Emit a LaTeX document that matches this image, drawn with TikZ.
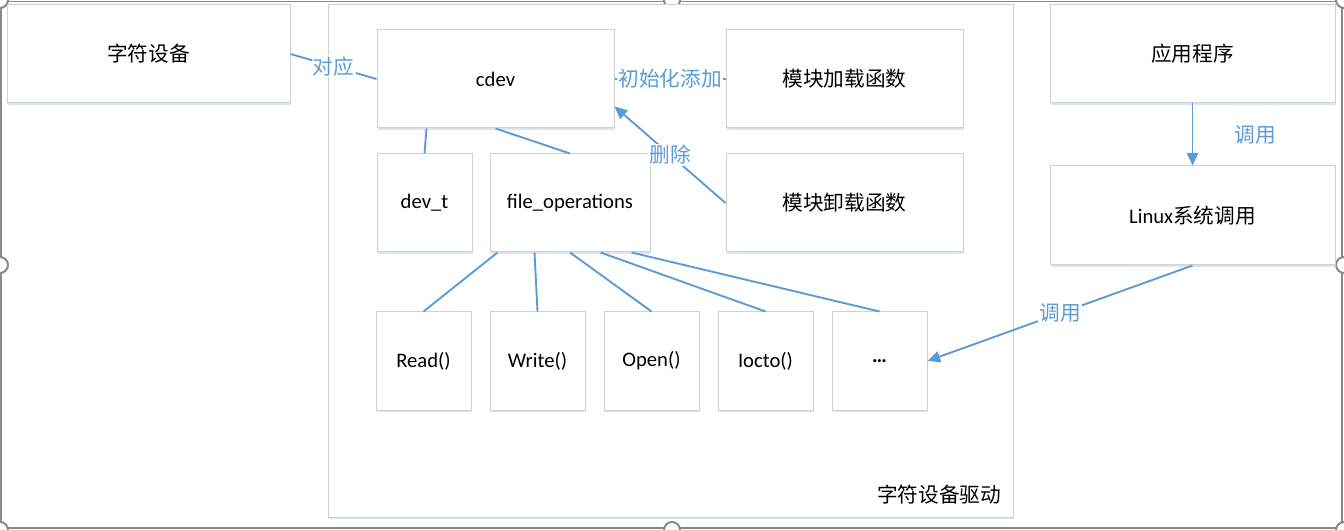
\documentclass[tikz,border=0pt]{standalone}
\usepackage{fontspec}
\setmainfont{Carlito}
\newfontfamily\cjk{Noto Sans CJK SC}
\usetikzlibrary{shadows,arrows.meta,calc}
\definecolor{lineblue}{HTML}{5B9BD5}
\definecolor{boxgray}{HTML}{D0D0D0}
\definecolor{shadowblue}{HTML}{C9DAEE}
\definecolor{selgray}{HTML}{8A8A8A}
\tikzset{
  every node/.style={font=\fontsize{15.5}{18}\selectfont},
  sz/.style 2 args={minimum width={#1*0.75pt}, minimum height={#2*0.75pt}},
  box/.style={draw=boxgray, fill=white, line width=0.75pt, inner sep=0pt,
    drop shadow={shadow xshift=0.8pt, shadow yshift=-1.2pt, fill=shadowblue, opacity=0.7}},
  conn/.style={draw=lineblue, line width=1.4pt},
  arr/.style={conn, -{Triangle[length=9.5pt,width=8.5pt]}},
  lbl/.style={fill=white, text=lineblue, inner sep=1pt, font=\fontsize{15.5}{18}\selectfont\cjk},
  handle/.style={circle, draw=selgray, fill=white, line width=1.5pt, minimum size=12pt, inner sep=0pt}
}
\begin{document}
\begin{tikzpicture}[x=0.75pt, y=-0.75pt]
\useasboundingbox (0,0) rectangle (1344,530);
% selection frame
\draw[selgray, line width=1.3pt] (1,1.5) rectangle (1342,528);
\foreach \hx/\hy/\hn in {0/0/h1, 672/0/h2, 1344/0/h3, 0/265/h4, 1344/265/h5, 0/530/h6, 672/530/h7, 1344/530/h8}
  \node[handle] (\hn) at (\hx,\hy) {};
% container
\node[box, sz={685}{512}] (drv) at (670.5,261) {};
\node[anchor=east] (drvlbl) at (1006,495) {\cjk 字符设备驱动};
% boxes
\node[box, sz={283}{98}] (zf) at (148.5,54) {\cjk 字符设备};
\node[box, sz={237}{98}] (cdev) at (495.5,79) {cdev};
\node[box, sz={237}{98}] (load) at (844.5,79) {\cjk 模块加载函数};
\node[box, sz={237}{98}] (unload) at (844.5,203) {\cjk 模块卸载函数};
\node[box, sz={95}{98}] (devt) at (424.5,203) {dev\_t};
\node[box, sz={160}{98}] (fops) at (570,203) {file\_operations};
\node[box, sz={95}{98}] (read) at (423.5,361) {Read()};
\node[box, sz={95}{98}] (write) at (537.5,361) {Write()};
\node[box, sz={95}{98}] (open) at (651.5,361) {Open()};
\node[box, sz={95}{98}] (iocto) at (765.5,361) {Iocto()};
\node[box, sz={95}{98}] (dots) at (879.5,361) {\textbf{…}};
\node[box, sz={285}{98}] (app) at (1192.5,54) {\cjk 应用程序};
\node[box, sz={285}{99}] (linux) at (1192.5,215.5) {Linux{\cjk 系统调用}};
% connectors
\path[conn] (zf.east) -- node[lbl] {对应} (cdev.west);
\path[conn] (cdev.east) -- node[lbl] {初始化添加} (load.west);
\path[arr] (unload.west) -- node[lbl] {删除} (cdev.-13);
\path[conn] ($(cdev.south west)+(50,0)$) -- (devt.north);
\path[conn] (cdev.south) -- (fops.north);
\path[conn] ($(fops.south west)+(8,0)$) -- (read.north);
\path[conn] ($(fops.south west)+(45,0)$) -- (write.north);
\path[conn] (fops.south) -- (open.north);
\path[conn] ($(fops.south west)+(111,0)$) -- (iocto.north);
\path[conn] ($(fops.south west)+(142,0)$) -- (dots.north);
\path[arr] (app.south) -- node[lbl, anchor=west, xshift=30pt] {调用} (linux.north);
\path[arr] (linux.south) -- node[lbl] {调用} (dots.east);
\end{tikzpicture}
\end{document}
